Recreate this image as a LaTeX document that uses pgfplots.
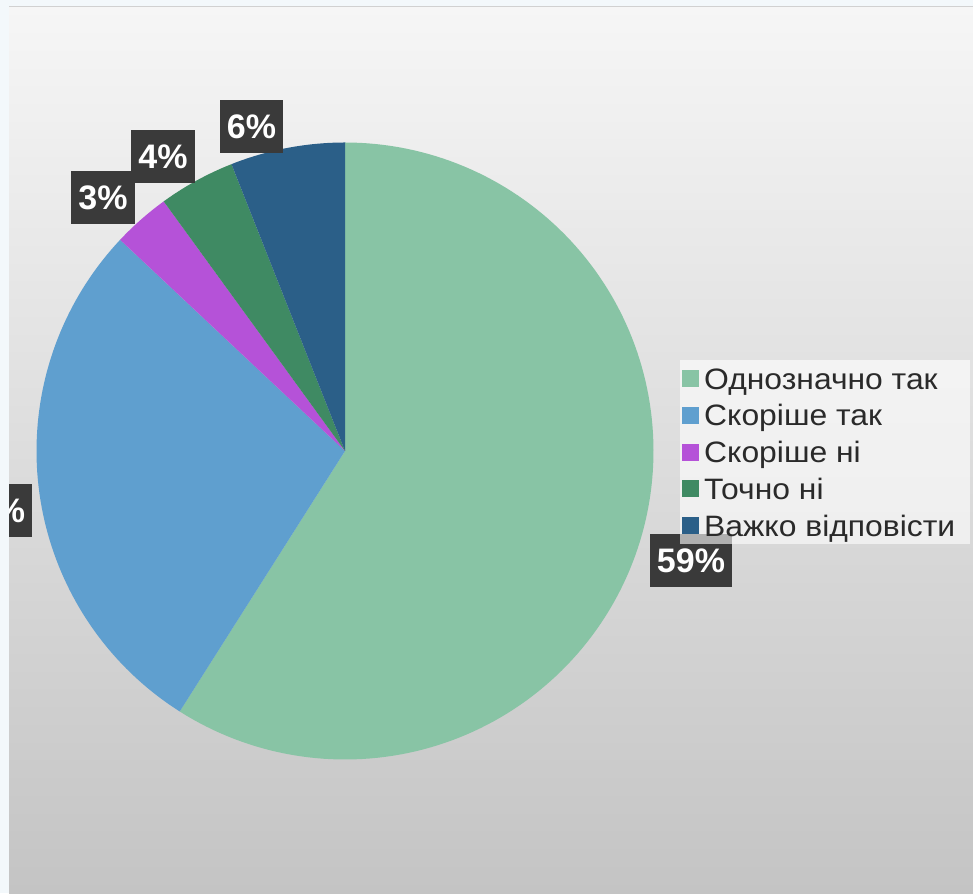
\documentclass[border=0pt]{standalone}
\usepackage{fontspec}
\setmainfont{Liberation Sans}
\usepackage{pgfplots}
\pgfplotsset{compat=1.18}
\definecolor{cA}{HTML}{88C4A5}
\definecolor{cB}{HTML}{5F9FCF}
\definecolor{cC}{HTML}{B552D8}
\definecolor{cD}{HTML}{3F8A63}
\definecolor{cE}{HTML}{2B5F88}
\definecolor{framecol}{HTML}{F3F8FB}
\definecolor{lblbox}{HTML}{3A3A3A}
\definecolor{legtext}{HTML}{2A2A2A}
\definecolor{bgtop}{RGB}{246,246,246}
\definecolor{bgbot}{RGB}{196,196,196}
% values (percent)
\def\vA{59}\def\vB{28}\def\vC{3}\def\vD{4}\def\vE{6}
\def\cx{345}\def\cy{442}\def\rr{308.5}
\begin{document}
\begin{tikzpicture}[x=1pt,y=1pt]
\fill[framecol] (0,0) rectangle (973,893);
\shade[top color=bgtop, bottom color=bgbot] (9,0) rectangle (973,887);
\begin{axis}[
  at={(0,0)}, anchor=south west,
  scale only axis, width=973pt, height=893pt,
  xmin=0, xmax=973, ymin=0, ymax=893,
  hide axis, clip=false,
  legend cell align=left,
  legend image code/.code={\fill[#1,draw=none,fill opacity=1] (0pt,-8.5pt) rectangle (17pt,8.5pt);},
  legend style={at={(axis cs:680,533)}, anchor=north west,
    fill=white, fill opacity=0.6, text opacity=1, draw=none,
    inner xsep=2pt, inner ysep=0pt, text=legtext,
    font=\fontsize{29.5}{30}\selectfont,
    row sep=0pt,
    nodes={inner sep=0pt, text height=29pt, text depth=7.8pt},
    /tikz/every odd column/.append style={column sep=5pt},
    /tikz/every even column/.append style={column sep=14pt}},
]
\addplot[fill=cA, draw=none, domain={90-3.6*(\vA)}:90, samples=150, variable=\t]
  ({\cx+\rr*cos(t)},{\cy+\rr*sin(t)}) -- (axis cs:\cx,\cy) -- cycle;
\addlegendentry{\scalebox{1.08}[1]{Однозначно так}}
\addplot[fill=cB, draw=none, domain={90-3.6*(\vA+\vB)}:{90-3.6*(\vA)}, samples=80, variable=\t]
  ({\cx+\rr*cos(t)},{\cy+\rr*sin(t)}) -- (axis cs:\cx,\cy) -- cycle;
\addlegendentry{\scalebox{1.08}[1]{Скоріше так}}
\addplot[fill=cC, draw=none, domain={90-3.6*(\vA+\vB+\vC)}:{90-3.6*(\vA+\vB)}, samples=20, variable=\t]
  ({\cx+\rr*cos(t)},{\cy+\rr*sin(t)}) -- (axis cs:\cx,\cy) -- cycle;
\addlegendentry{\scalebox{1.08}[1]{Скоріше ні}}
\addplot[fill=cD, draw=none, domain={90-3.6*(\vA+\vB+\vC+\vD)}:{90-3.6*(\vA+\vB+\vC)}, samples=20, variable=\t]
  ({\cx+\rr*cos(t)},{\cy+\rr*sin(t)}) -- (axis cs:\cx,\cy) -- cycle;
\addlegendentry{\scalebox{1.08}[1]{Точно ні}}
\addplot[fill=cE, draw=none, domain={90-3.6*(\vA+\vB+\vC+\vD+\vE)}:{90-3.6*(\vA+\vB+\vC+\vD)}, samples=30, variable=\t]
  ({\cx+\rr*cos(t)},{\cy+\rr*sin(t)}) -- (axis cs:\cx,\cy) -- cycle;
\addlegendentry{\scalebox{1.08}[1]{Важко відповісти}\rule{13pt}{0pt}}
% data labels
\tikzset{lbl/.style={fill=lblbox, text=white, font=\fontsize{34}{34}\selectfont\bfseries,
  minimum height=53pt, inner xsep=7pt, inner ysep=0pt}}
\node[lbl] at (axis cs:691,332) {59\%};
\node[lbl] at (axis cs:-9,382.5) {28\%};
\node[lbl] at (axis cs:103,695.5) {3\%};
\node[lbl] at (axis cs:163,736.5) {4\%};
\node[lbl] at (axis cs:251.5,766.5) {6\%};
\end{axis}
\fill[framecol] (0,0) rectangle (9,893);
\fill[framecol] (0,887) rectangle (973,893);
\draw[black!18, line width=1pt] (9,886.5) -- (973,886.5);
\pgfresetboundingbox
\path[use as bounding box] (0,0) rectangle (973,893);
\end{tikzpicture}
\end{document}
